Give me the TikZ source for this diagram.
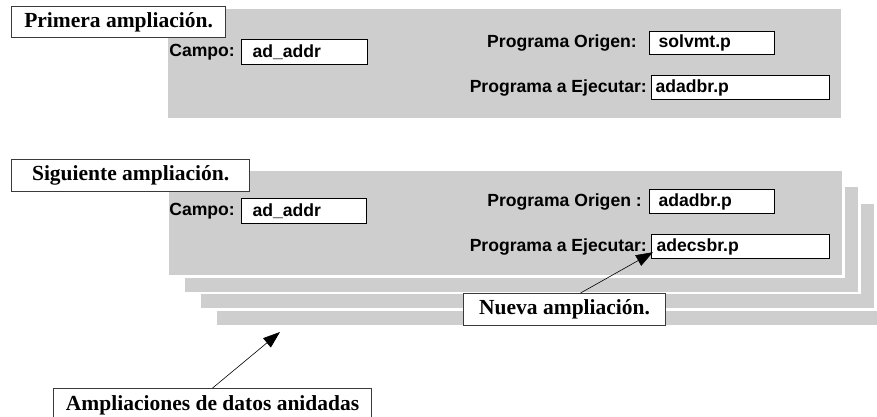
\documentclass[tikz,border=0pt]{standalone}
\usepackage{fontspec}
\setmainfont{Liberation Serif}
\setsansfont{Liberation Sans}
\usepackage{xcolor}
\usepackage{tikz}
\usetikzlibrary{arrows.meta,calc,positioning}
\definecolor{Dither}{HTML}{CECECE}
\definecolor{Frame}{HTML}{3A3A3A}

\begin{document}
\begin{tikzpicture}[x=1pt,y=-1pt,>=Triangle,
  panel/.style={rectangle,fill=Dither,draw=white,line width=2.5pt,anchor=north west,
    minimum width=676pt,minimum height=107pt,inner sep=0pt},
  titlebox/.style={rectangle,draw=Frame,line width=1.2pt,fill=white,anchor=north west,
    inner sep=0pt,minimum height=31pt,font=\fontsize{21.5}{24}\selectfont\bfseries},
  valbox/.style={rectangle,draw=black,line width=1.2pt,fill=white,anchor=north west,
    inner ysep=0pt,minimum height=24pt,align=left,font=\fontsize{17.6}{19}\selectfont\sffamily\bfseries},
  fieldlabel/.style={inner sep=0pt,font=\fontsize{17.6}{19}\selectfont\sffamily\bfseries},
  pointer/.style={-{Triangle[length=17pt,width=12pt]},line width=0.6pt}]
  \clip (0,0) rectangle (877,417);

  % primera ampliacion
  \node[panel,minimum height=111pt] (panelA) at (165,7) {};
  \node[titlebox,minimum width=214pt] (titleA) at (11,6) {Primera ampliación.};
  \node[valbox,inner xsep=11pt,text width=104pt,minimum height=25pt] (campoA) at (241,39) {ad\_addr};
  \node[fieldlabel,left=6pt of campoA] (campoAl) {Campo:};
  \node[valbox,inner xsep=9pt,text width=107pt,minimum height=23pt] (origenA) at (649,31) {solvmt.p};
  \node[fieldlabel,left=12pt of origenA] (origenAl) {Programa Origen:};
  \node[valbox,inner xsep=4pt,text width=170pt] (ejecA) at (651,75) {adadbr.p};
  \node[fieldlabel,left=4pt of ejecA] (ejecAl) {Programa a Ejecutar:};

  % siguiente ampliacion, con las anidadas detras
  \foreach \k in {3,2,1}
  {
    \node[panel] (back\k) at (166+16*\k,168+16.5*\k) {};
  }
  \node[panel] (panelB) at (166,168) {};
  \node[titlebox,minimum width=238pt,minimum height=32pt] (titleB) at (11,159) {Siguiente ampliación.};
  \node[valbox,inner xsep=11pt,text width=103pt,minimum height=25pt] (campoB) at (241,198) {ad\_addr};
  \node[fieldlabel,left=6pt of campoB] (campoBl) {Campo:};
  \node[valbox,inner xsep=9pt,text width=107pt] (origenB) at (649,189) {adadbr.p};
  \node[fieldlabel,left=7pt of origenB] (origenBl) {Programa Origen :};
  \node[valbox,inner xsep=5pt,text width=168pt] (ejecB) at (651,234) {adecsbr.p};
  \node[fieldlabel,left=4pt of ejecB] (ejecBl) {Programa a Ejecutar:};

  % llamadas
  \node[titlebox,minimum width=202pt,minimum height=32pt] (nueva) at (463,293) {Nueva ampliación.};
  \node[titlebox,minimum width=318pt,minimum height=34pt] (anidadas) at (53,388) {Ampliaciones de datos anidadas};
  \coordinate (tipN) at ([shift={(2pt,7pt)}]ejecB.south west);
  \coordinate (tipA) at ([shift={(66pt,-5pt)}]back3.south west);
  \draw[pointer] ([xshift=16pt]nueva.north) -- (tipN);
  \draw[pointer] (anidadas.north) -- (tipA);
\end{tikzpicture}
\end{document}
